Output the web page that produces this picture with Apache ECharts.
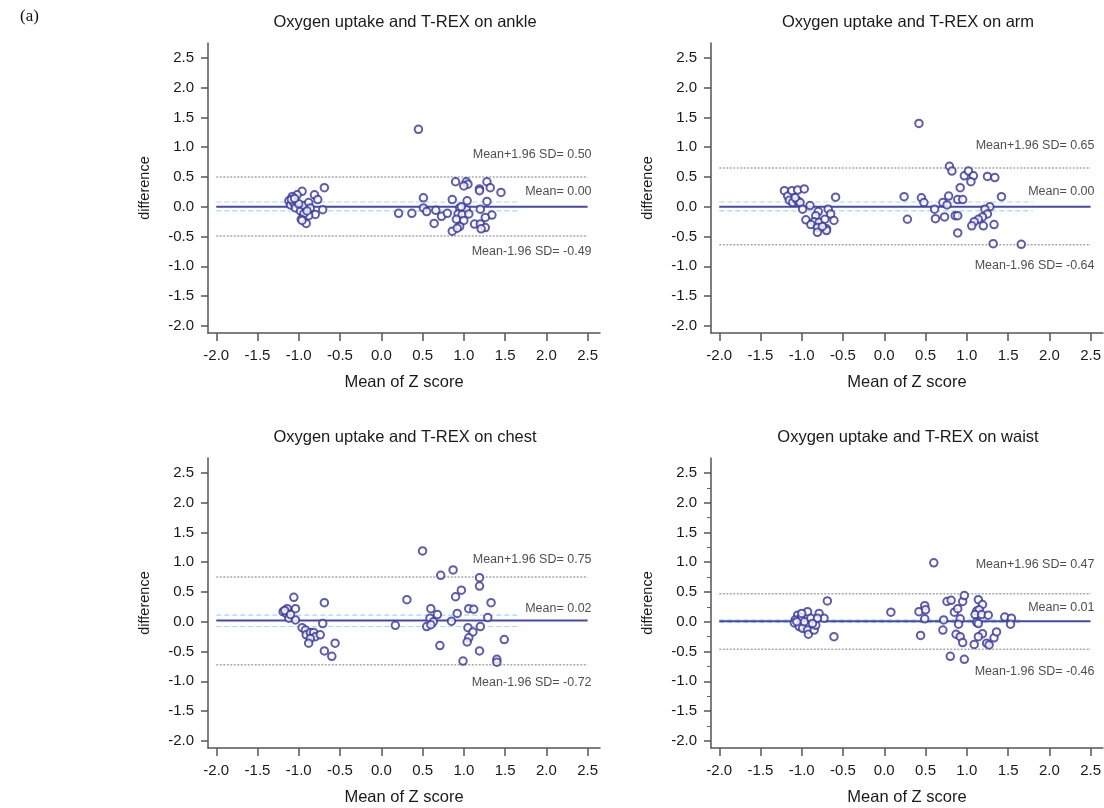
<!DOCTYPE html>
<html>
<head>
<meta charset="utf-8">
<title>Bland-Altman: oxygen uptake vs T-REX</title>
<script src="https://cdn.jsdelivr.net/npm/echarts@6.0.0/dist/echarts.min.js"></script>
<style>
  html, body { margin: 0; padding: 0; background: #fff; }
  #main { width: 1104px; height: 808px; }
</style>
</head>
<body>
<div id="main"></div>
<script>
// panel titles (sensor position)
var panelTitles = ['Oxygen uptake and T-REX on ankle', 'Oxygen uptake and T-REX on arm',
                   'Oxygen uptake and T-REX on chest', 'Oxygen uptake and T-REX on waist'];

// [mean of Z score, difference]
var anklePoints = [
  [-0.69,0.32],[-0.81,0.20],[-0.77,0.12],[-0.71,-0.05],[-0.96,0.26],[-1.02,0.20],[-1.08,0.17],[-1.12,0.10],
  [-1.10,0.03],[-1.06,0.07],[-1.04,-0.02],[-0.98,-0.07],[-0.94,0.02],[-0.88,0.07],[-0.86,-0.02],[-0.80,-0.13],
  [-0.88,-0.15],[-0.94,-0.12],[-0.97,-0.21],[-0.91,-0.28],[-0.96,-0.23],[-1.00,0.05],[-0.90,-0.07],[-1.09,0.12],
  [-1.05,0.14],
  [0.21,-0.11],[0.45,1.30],[0.37,-0.11],[0.51,0.15],[0.51,-0.02],[0.55,-0.08],[0.66,-0.06],[0.64,-0.28],
  [0.73,-0.16],[0.80,-0.11],[0.86,0.12],[0.86,-0.41],[0.90,0.42],[1.03,0.42],[1.05,0.38],[1.00,0.35],
  [1.28,0.42],[1.32,0.32],[1.19,0.30],[1.19,0.27],[1.45,0.24],[1.04,0.10],[1.28,0.09],[0.95,-0.02],
  [1.03,-0.05],[1.20,-0.04],[0.93,-0.12],[0.98,-0.13],[1.06,-0.12],[1.34,-0.14],[1.26,-0.18],[0.91,-0.21],
  [1.00,-0.23],[1.13,-0.29],[1.20,-0.29],[1.26,-0.35],[1.21,-0.37],[0.95,-0.33],[0.92,-0.36],[0.97,0.00]
];
var armPoints = [
  [-1.21,0.27],[-1.17,0.18],[-1.12,0.27],[-1.05,0.28],[-0.97,0.30],[-1.15,0.11],[-1.11,0.07],[-1.05,0.10],
  [-1.02,0.07],[-1.08,0.15],[-0.99,-0.04],[-0.90,0.02],[-0.59,0.16],[-0.80,-0.08],[-0.68,-0.04],[-0.65,-0.12],
  [-0.95,-0.22],[-0.83,-0.15],[-0.85,-0.25],[-0.79,-0.26],[-0.72,-0.21],[-0.61,-0.23],[-0.89,-0.30],[-0.81,-0.35],
  [-0.81,-0.43],[-0.70,-0.37],[-0.70,-0.40],[-0.75,-0.33],
  [0.42,1.40],[0.24,0.17],[0.28,-0.21],[0.45,0.15],[0.48,0.07],[0.61,-0.04],[0.62,-0.20],[0.71,0.07],
  [0.73,-0.17],[0.76,0.03],[0.78,0.18],[0.79,0.68],[0.82,0.60],[0.86,-0.15],[0.89,-0.15],[0.89,-0.44],
  [0.89,0.12],[0.95,0.12],[0.92,0.32],[0.97,0.52],[1.02,0.60],[1.08,0.52],[1.05,0.42],[1.25,0.51],
  [1.34,0.49],[1.42,0.17],[1.28,0.00],[1.22,-0.04],[1.25,-0.12],[1.19,-0.17],[1.14,-0.21],[1.09,-0.25],
  [1.06,-0.32],[1.20,-0.32],[1.33,-0.30],[1.32,-0.62],[1.66,-0.63]
];
var chestPoints = [
  [-1.06,0.41],[-1.04,0.22],[-1.14,0.22],[-1.19,0.17],[-1.15,0.14],[-1.12,0.06],[-1.04,0.03],[-0.69,0.32],
  [-0.71,-0.03],[-0.96,-0.10],[-0.92,-0.14],[-0.91,-0.22],[-0.86,-0.18],[-0.82,-0.18],[-0.80,-0.25],[-0.74,-0.22],
  [-0.86,-0.28],[-0.88,-0.36],[-0.56,-0.36],[-0.69,-0.49],[-0.60,-0.58],[-1.17,0.19],[-1.10,0.12],
  [0.17,-0.06],[0.50,1.19],[0.31,0.37],[0.72,0.78],[0.87,0.87],[1.19,0.74],[1.19,0.60],[0.97,0.53],
  [0.90,0.42],[0.60,0.22],[0.68,0.12],[0.59,0.06],[0.63,0.00],[0.55,-0.08],[0.60,-0.05],[0.85,0.01],
  [0.92,0.14],[1.06,0.22],[1.12,0.21],[1.33,0.32],[1.29,0.07],[1.05,-0.10],[1.20,-0.08],[1.11,-0.17],
  [1.06,-0.27],[1.04,-0.34],[1.49,-0.30],[0.71,-0.40],[1.19,-0.49],[1.40,-0.63],[0.99,-0.66],[1.40,-0.68]
];
var waistPoints = [
  [-0.69,0.35],[-0.61,-0.25],[-1.05,0.11],[-0.93,0.17],[-1.01,0.07],[-1.08,0.03],[-1.09,-0.02],[-1.03,-0.08],
  [-0.99,-0.11],[-0.93,-0.14],[-0.92,-0.21],[-0.85,-0.14],[-0.83,-0.06],[-0.89,0.06],[-0.79,0.14],[-0.73,0.06],
  [-0.81,0.06],[-0.97,0.00],[-0.87,-0.03],[-1.06,0.00],[-1.00,0.14],
  [0.08,0.16],[0.60,0.99],[0.42,0.17],[0.49,0.27],[0.50,0.20],[0.49,0.05],[0.44,-0.23],[0.72,0.03],
  [0.71,-0.14],[0.76,0.34],[0.81,0.36],[0.85,0.16],[0.89,0.22],[0.95,0.34],[0.97,0.44],[0.92,0.05],
  [0.90,-0.04],[0.87,-0.21],[0.92,-0.25],[0.95,-0.35],[0.80,-0.58],[0.97,-0.63],[1.14,0.37],[1.19,0.29],
  [1.12,0.18],[1.15,0.20],[1.10,0.12],[1.18,0.12],[1.26,0.11],[1.12,-0.01],[1.14,-0.03],[1.19,-0.20],
  [1.14,-0.25],[1.09,-0.38],[1.24,-0.36],[1.27,-0.39],[1.33,-0.27],[1.36,-0.17],[1.46,0.08],[1.54,0.06],
  [1.53,-0.04]
];

// Bland-Altman statistics per panel
var meanDiff = [0.00, 0.00, 0.02, 0.01];
var upperLoA = [0.50, 0.65, 0.75, 0.47];
var lowerLoA = [-0.49, -0.64, -0.72, -0.46];
var ciHigh   = [0.08, 0.08, 0.11, 0.03];
var ciLow    = [-0.07, -0.07, -0.08, -0.01];
var ciEndX   = [1.65, 1.80, 1.65, 1.65];

// axis ticks
var xTicks = [-2.0, -1.5, -1.0, -0.5, 0.0, 0.5, 1.0, 1.5, 2.0, 2.5];
var yTicks = [-2.0, -1.5, -1.0, -0.5, 0.0, 0.5, 1.0, 1.5, 2.0, 2.5];
var yMinorTicks = [-1.75, -1.25, -0.75, -0.25, 0.25, 0.75, 1.25, 1.75, 2.25];
var lineStartX = -2.0, lineEndX = 2.5;

var allPoints = [anklePoints, armPoints, chestPoints, waistPoints];

// layout
var gridLeft = [208, 711, 208, 711];
var gridTop = [43, 43, 458, 458];
var labelDy = [[-22, -15, 16], [-23, -15, 21], [-18, -12, 18], [-29, -14, 22]]; // upper, mean, lower

var pointColor = '#35359c';
var axisColor = '#555';
var grids = [], xAxes = [], yAxes = [], series = [], titles = [];

for (var i = 0; i < 4; i++) {
  grids.push({ left: gridLeft[i], top: gridTop[i], width: 392, height: 290 });
  titles.push({
    text: panelTitles[i], left: gridLeft[i] + 192, top: gridTop[i] - 34, textAlign: 'center',
    textStyle: { fontFamily: 'Liberation Sans', fontSize: 16.5, fontWeight: 'normal', color: '#1a1a1a' }
  });
  xAxes.push({
    type: 'value', gridIndex: i, min: -2.1, max: 2.65,
    name: 'Mean of Z score', nameLocation: 'middle', nameGap: 41,
    nameTextStyle: { fontFamily: 'Liberation Sans', fontSize: 16.5, color: '#1a1a1a' },
    axisLine: { onZero: false, lineStyle: { color: axisColor, width: 1.5 } },
    axisTick: { show: true, length: 8, customValues: xTicks, lineStyle: { color: axisColor, width: 1.5 } },
    axisLabel: { customValues: xTicks, margin: 15, fontFamily: 'Liberation Sans', fontSize: 15, color: '#1a1a1a',
                 formatter: function (v) { return v.toFixed(1); } },
    splitLine: { show: false }
  });
  yAxes.push({
    type: 'value', gridIndex: i, min: -2.12, max: 2.75,
    name: 'difference', nameLocation: 'middle', nameGap: 56, nameRotate: 90,
    nameTextStyle: { fontFamily: 'Liberation Sans', fontSize: 14.5, color: '#1a1a1a' },
    axisLine: { show: true, onZero: false, lineStyle: { color: axisColor, width: 1.5 } },
    axisTick: { show: true, length: 7, customValues: yTicks, lineStyle: { color: axisColor, width: 1.5 } },
    axisLabel: { customValues: yTicks, margin: 14, fontFamily: 'Liberation Sans', fontSize: 15, color: '#1a1a1a',
                 formatter: function (v) { return v.toFixed(1); } },
    splitLine: { show: false }
  });

  // limits of agreement (gray dotted)
  [upperLoA[i], lowerLoA[i]].forEach(function (v) {
    series.push({
      type: 'line', xAxisIndex: i, yAxisIndex: i, silent: true, symbol: 'none', z: 1,
      data: [[lineStartX, v], [lineEndX, v]],
      lineStyle: { color: '#a8a8a8', width: 1.5, type: [2, 1.5] }
    });
  });
  // confidence interval of the mean (light cyan dashed)
  [ciHigh[i], ciLow[i]].forEach(function (v) {
    series.push({
      type: 'line', xAxisIndex: i, yAxisIndex: i, silent: true, symbol: 'none', z: 1,
      data: [[lineStartX, v], [ciEndX[i], v]],
      lineStyle: { color: '#9fdcf2', width: 1.2, type: [5, 3] }
    });
  });
  // mean difference
  series.push({
    type: 'line', xAxisIndex: i, yAxisIndex: i, silent: true, symbol: 'none', z: 2,
    data: [[lineStartX, meanDiff[i]], [lineEndX, meanDiff[i]]],
    lineStyle: { color: '#4848aa', width: 2 }
  });
  // points
  series.push({
    type: 'scatter', xAxisIndex: i, yAxisIndex: i, z: 3,
    symbol: 'emptyCircle', symbolSize: 7.5,
    itemStyle: { color: pointColor, borderColor: pointColor, borderWidth: 1.3 },
    data: allPoints[i]
  });
  // annotations at the right end of each reference line
  var texts = ['Mean+1.96 SD= ' + upperLoA[i].toFixed(2), 'Mean= ' + meanDiff[i].toFixed(2),
               'Mean-1.96 SD= ' + lowerLoA[i].toFixed(2)];
  var vals = [upperLoA[i], meanDiff[i], lowerLoA[i]];
  series.push({
    type: 'scatter', xAxisIndex: i, yAxisIndex: i, silent: true, z: 4,
    symbolSize: 0.1, itemStyle: { color: 'transparent' },
    data: vals.map(function (v, k) {
      return {
        value: [lineEndX, v],
        label: {
          show: true, position: 'left', distance: 0, offset: [4, labelDy[i][k]],
          formatter: texts[k], fontFamily: 'Liberation Sans', fontSize: 12.5, color: '#222'
        }
      };
    })
  });
}

// minor ticks on the waist panel y axis
yAxes.push({
  type: 'value', gridIndex: 3, min: -2.12, max: 2.75, position: 'left',
  axisLine: { show: false, onZero: false }, splitLine: { show: false }, axisLabel: { show: false },
  axisTick: { show: true, length: 4, customValues: yMinorTicks, lineStyle: { color: '#666', width: 1 } }
});

var chart = echarts.init(document.getElementById('main'), null, { renderer: 'canvas' });
chart.setOption({
  animation: false,
  backgroundColor: '#fff',
  title: titles,
  grid: grids,
  xAxis: xAxes,
  yAxis: yAxes,
  series: series,
  graphic: [{
    type: 'text', left: 20, top: 8,
    style: { text: '(a)', font: '17px "Liberation Serif"', fill: '#111' }
  }]
});
</script>
</body>
</html>
